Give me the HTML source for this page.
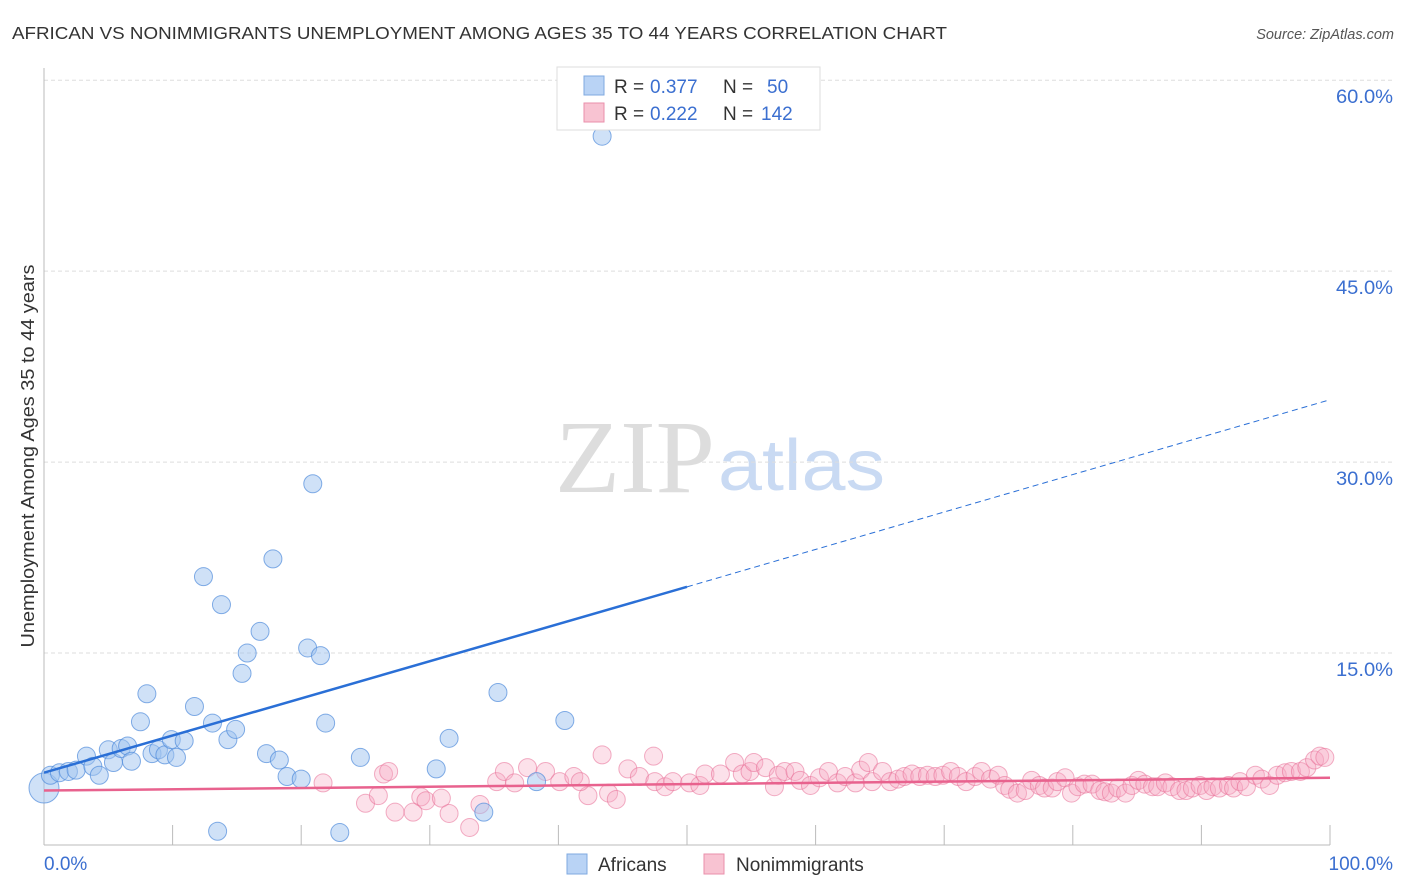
<!DOCTYPE html>
<html><head><meta charset="utf-8"><style>
body{margin:0;background:#fff;font-family:"Liberation Sans",sans-serif;}
svg{display:block}
</style></head><body>
<svg id="c" width="1406" height="892" xmlns="http://www.w3.org/2000/svg">
<text x="12" y="39" font-size="17.5" fill="#333" textLength="935" lengthAdjust="spacingAndGlyphs">AFRICAN VS NONIMMIGRANTS UNEMPLOYMENT AMONG AGES 35 TO 44 YEARS CORRELATION CHART</text>
<text x="1394" y="39" font-size="14.5" fill="#555" font-style="italic" text-anchor="end">Source: ZipAtlas.com</text>
<text x="555" y="492" font-size="104" fill="#ddd" font-family="Liberation Serif,serif" textLength="160" lengthAdjust="spacingAndGlyphs">ZIP</text>
<text x="718" y="490" font-size="72" fill="#c9daf3" textLength="167" lengthAdjust="spacingAndGlyphs">atlas</text>
<text transform="translate(34,456) rotate(-90)" font-size="18" fill="#333" text-anchor="middle" textLength="383" lengthAdjust="spacingAndGlyphs">Unemployment Among Ages 35 to 44 years</text>
<g id="grid"></g><g id="marks"></g>
<g>
<rect x="557" y="67" width="263" height="63" fill="#fff" stroke="#ddd"/>
<rect x="584" y="76" width="20" height="19" fill="#b9d3f5" stroke="#7fa9e0"/>
<rect x="584" y="103" width="20" height="19" fill="#f8c3d2" stroke="#ea8fab"/>
<text x="614" y="93" font-size="19" fill="#333">R =</text>
<text x="650" y="93" font-size="19" fill="#3b6fd0">0.377</text>
<text x="723" y="93" font-size="19" fill="#333">N =</text>
<text x="767" y="93" font-size="19" fill="#3b6fd0">50</text>
<text x="614" y="120" font-size="19" fill="#333">R =</text>
<text x="650" y="120" font-size="19" fill="#3b6fd0">0.222</text>
<text x="723" y="120" font-size="19" fill="#333">N =</text>
<text x="761" y="120" font-size="19" fill="#3b6fd0">142</text>
</g>
<rect x="567" y="854" width="20" height="20" fill="#b9d3f5" stroke="#7fa9e0"/>
<text x="598" y="871" font-size="19" fill="#333">Africans</text>
<rect x="704" y="854" width="20" height="20" fill="#f8c3d2" stroke="#ea8fab"/>
<text x="736" y="871" font-size="19" fill="#333">Nonimmigrants</text>
</svg>
<script>
const yTicks=[15,30,45,60];
const yTickLabels=["15.0%","30.0%","45.0%","60.0%"];
const xTicks=[0,10,20,30,40,50,60,70,80,90,100];
const africanX=[0,0.5,1.2,1.9,2.5,3.3,3.8,4.3,5.0,5.4,6.0,6.5,6.8,7.5,8.0,8.4,8.9,9.4,9.9,10.3,10.9,11.7,12.4,13.1,13.5,13.8,14.3,14.9,15.4,15.8,16.8,17.3,17.8,18.3,18.9,20.0,20.5,20.9,21.5,21.9,23.0,24.6,30.5,31.5,34.2,35.3,38.3,40.5,43.4];
const africanY=[4.4,5.4,5.6,5.7,5.8,6.9,6.1,5.4,7.4,6.4,7.5,7.7,6.5,9.6,11.8,7.1,7.4,7.0,8.2,6.8,8.1,10.8,21.0,9.5,1.0,18.8,8.2,9.0,13.4,15.0,16.7,7.1,22.4,6.6,5.3,5.1,15.4,28.3,14.8,9.5,0.9,6.8,5.9,8.3,2.5,11.9,4.9,9.7,55.6];
const nonX=[21.7,26.4,26.8,25.0,26.0,27.3,28.7,29.3,29.7,30.9,31.5,33.1,33.9,35.2,35.8,37.6,36.6,39.0,40.1,41.2,42.3,41.7,43.4,43.9,44.5,45.4,46.3,47.4,47.5,48.3,48.9,50.2,51.0,51.4,52.6,53.7,54.3,54.9,55.2,56.1,56.8,57.1,57.6,58.4,58.8,59.6,60.3,61.0,61.7,62.3,63.1,63.5,64.1,64.4,65.2,65.8,66.4,66.9,67.5,68.1,68.7,69.3,69.9,70.5,71.1,71.7,72.4,72.9,73.6,74.2,74.7,75.1,75.7,76.3,76.8,77.4,77.8,78.4,78.8,79.4,79.9,80.4,80.9,81.5,82.1,82.5,83.0,83.5,84.1,84.6,85.1,85.6,86.2,86.6,87.2,87.7,88.3,88.8,89.3,89.9,90.4,90.9,91.4,92.1,92.5,93.0,93.5,94.2,94.7,95.3,95.9,96.5,97.0,97.7,98.2,98.8,99.2,99.6];
const nonY=[4.8,5.5,5.7,3.2,3.8,2.5,2.5,3.7,3.4,3.6,2.4,1.3,3.1,4.9,5.7,6.0,4.8,5.7,4.9,5.3,3.8,4.9,7.0,4.0,3.5,5.9,5.3,6.9,4.9,4.5,4.9,4.8,4.6,5.5,5.5,6.4,5.5,5.7,6.4,6.0,4.5,5.4,5.7,5.7,5.0,4.6,5.2,5.7,4.8,5.3,4.8,5.8,6.4,4.9,5.7,4.9,5.1,5.3,5.5,5.3,5.4,5.3,5.4,5.7,5.3,4.9,5.3,5.7,5.1,5.4,4.6,4.3,4.0,4.2,5.0,4.6,4.4,4.4,4.9,5.2,4.0,4.5,4.7,4.7,4.2,4.1,4.0,4.4,4.0,4.6,5.0,4.7,4.5,4.5,4.8,4.5,4.2,4.2,4.4,4.6,4.2,4.5,4.4,4.6,4.4,4.9,4.5,5.4,5.1,4.6,5.4,5.6,5.7,5.7,6.0,6.6,6.9,6.8];
const africanTrendX=[0,50,100];
const africanTrendY=[5.6,20.2,34.9];
const nonTrendX=[0,100];
const nonTrendY=[4.2,5.2];

const NS="http://www.w3.org/2000/svg";
const X=v=>44+v*12.86, Y=v=>844-v*12.73;
function mk(tag,attrs,parent){const e=document.createElementNS(NS,tag);for(const k in attrs)e.setAttribute(k,attrs[k]);parent.appendChild(e);return e;}
const g=document.getElementById('grid'), m=document.getElementById('marks');
yTicks.forEach((t,i)=>{
 const l=mk('line',{x1:44,x2:1393,y1:Y(t),y2:Y(t),stroke:'#ddd','stroke-dasharray':'4,3'},g);
 
 
 const tx=mk('text',{x:1393,y:Y(t)+23,'font-size':19,fill:'#3b6fd0','text-anchor':'end',textLength:57,lengthAdjust:'spacingAndGlyphs'},g);
 tx.textContent=yTickLabels[i];
 
 
});
const ax=mk('line',{x1:44,x2:1330,y1:845,y2:845,stroke:'#bbb'},g);


const ay=mk('line',{x1:44,x2:44,y1:68,y2:845,stroke:'#bbb'},g);


xTicks.forEach(t=>{
 const l=mk('line',{x1:X(t),x2:X(t),y1:825,y2:845,stroke:'#bbb'},g);
 
 
});
const xl0=mk('text',{x:44,y:870,'font-size':19,fill:'#3b6fd0'},g);xl0.textContent='0.0%';


const xl1=mk('text',{x:1393,y:870,'font-size':19,fill:'#3b6fd0','text-anchor':'end'},g);xl1.textContent='100.0%';



nonX.forEach((v,i)=>{
 const c=mk('circle',{cx:X(v),cy:Y(nonY[i]),r:9,fill:'rgba(246,170,195,0.35)',stroke:'rgba(232,110,150,0.55)','stroke-width':1},m);
 
 
});
africanX.forEach((v,i)=>{
 const c=mk('circle',{cx:X(v),cy:Y(africanY[i]),r:i===0?15:9,fill:'rgba(160,196,240,0.5)',stroke:'rgba(80,140,220,0.7)','stroke-width':1},m);
 
 
});
const bt=mk('line',{x1:X(africanTrendX[0]),y1:Y(africanTrendY[0]),x2:X(africanTrendX[1]),y2:Y(africanTrendY[1]),stroke:'#2a6fd6','stroke-width':2.5},m);


const bd=mk('line',{x1:X(africanTrendX[1]),y1:Y(africanTrendY[1]),x2:X(africanTrendX[2]),y2:Y(africanTrendY[2]),stroke:'#2a6fd6','stroke-width':1,'stroke-dasharray':'6,4'},m);


const pt=mk('line',{x1:X(nonTrendX[0]),y1:Y(nonTrendY[0]),x2:X(nonTrendX[1]),y2:Y(nonTrendY[1]),stroke:'#e8628e','stroke-width':2.5},m);


</script>
</body></html>
